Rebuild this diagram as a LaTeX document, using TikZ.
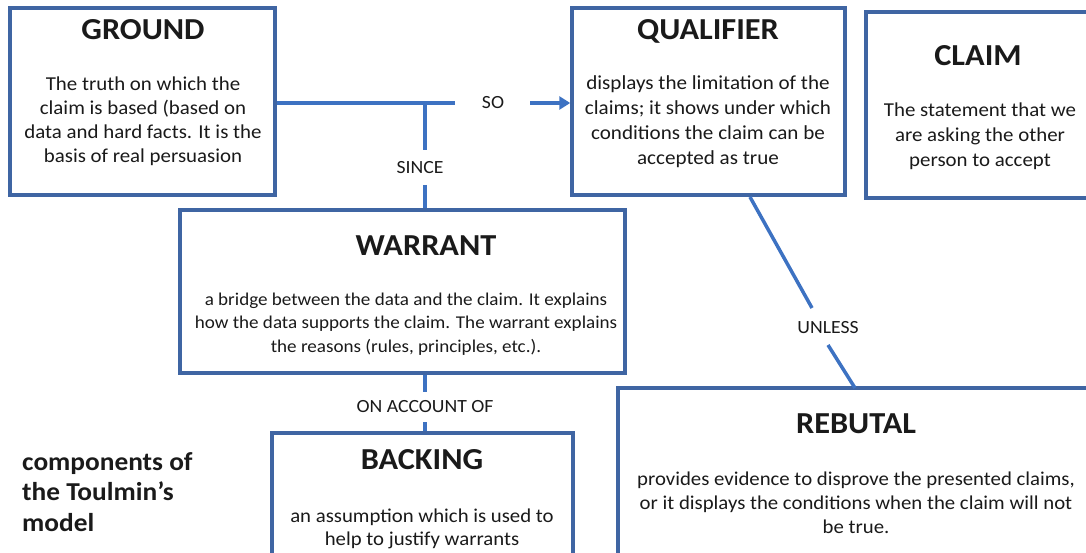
\documentclass[tikz,border=0pt]{standalone}
\usepackage{fontspec}
\setmainfont{Carlito}[FakeStretch=1.06]
\usetikzlibrary{arrows.meta}
\definecolor{boxblue}{HTML}{3F65A3}
\definecolor{lineblue}{HTML}{3D72C2}
\definecolor{txt}{HTML}{1A1A1A}
\tikzset{
  box/.style={draw=boxblue, line width=3.5pt, fill=white, inner sep=0pt},
  ttl/.style={font=\fontsize{30.5}{32}\selectfont\bfseries, text=txt, inner sep=0pt, anchor=base},
  body/.style={font=\fontsize{19.7}{24.5}\selectfont, text=txt, align=center, inner sep=0pt, anchor=base},
  lbl/.style={font=\fontsize{18.6}{20}\selectfont, text=txt, inner sep=2pt},
  conn/.style={draw=lineblue, line width=3.5pt},
}
\begin{document}
\begin{tikzpicture}[x=1pt,y=-1pt]
\useasboundingbox (0,0) rectangle (1086,553);
% boxes
\node[box, minimum width=265, minimum height=187] (ground) at (142.5,101.5) {};
\node[box, minimum width=273, minimum height=187] (qual) at (708.5,101.5) {};
\node[box, minimum width=240, minimum height=186] (claim) at (986,105) {};
\node[box, minimum width=445, minimum height=163] (warrant) at (402.5,291.5) {};
\node[box, minimum width=301, minimum height=140] (backing) at (422.5,503) {};
\node[box, minimum width=480, minimum height=185] (rebutal) at (858,480.5) {};
% texts
\node[ttl] (tground) at (143,40) {GROUND};
\node[body, font=\fontsize{19.7}{24.3}\selectfont] (bground) at (143,163) {The truth on which the\\claim is based (based on\\data and hard facts. It is the\\basis of real persuasion};
\node[ttl] (tqual) at (708,40) {QUALIFIER};
\node[body, font=\fontsize{19.9}{25}\selectfont] (bqual) at (708,165) {displays the limitation of the\\claims; it shows under which\\conditions the claim can be\\accepted as true};
\node[ttl] (tclaim) at (978,66) {CLAIM};
\node[body, font=\fontsize{19.7}{25}\selectfont] (bclaim) at (980,167) {The statement that we\\are asking the other\\person to accept};
\node[ttl] (twarrant) at (426,255) {WARRANT};
\node[body, font=\fontsize{18.0}{23.5}\selectfont] (bwarrant) at (406,352) {a bridge between the data and the claim. It explains\\how the data supports the claim. The warrant explains\\the reasons (rules, principles, etc.).};
\node[ttl] (tbacking) at (422,469) {BACKING};
\node[body, font=\fontsize{19.6}{23}\selectfont] (bbacking) at (422,545) {an assumption which is used to\\help to justify warrants};
\node[ttl] (trebutal) at (856,433) {REBUTAL};
\node[body, font=\fontsize{19.6}{24}\selectfont] (brebutal) at (856,533) {provides evidence to disprove the presented claims,\\or it displays the conditions when the claim will not\\be true.};
\node[font=\fontsize{25.8}{30.5}\selectfont\bfseries, text=txt, align=left, anchor=base west, inner sep=0pt] (comp) at (22,531) {components of\\the Toulmin's\\model};
% labels
\node[lbl] (so) at (493,103) {SO};
\node[lbl] (since) at (420,168) {SINCE};
\node[lbl] (onacc) at (425,407) {ON ACCOUNT OF};
% connectors
\coordinate (j1) at (455,103);
\coordinate (jv) at (425,103);
\coordinate (a0) at (530,103);
\draw[conn] (ground.east |- j1) -- (j1);
\draw[conn] (jv) -- (425,150);
\draw[conn] (425,185) -- (jv |- warrant.north);
\draw[conn, -{Triangle[length=11pt,width=13pt]}] (a0) -- (qual.west |- a0);
\draw[conn] (jv |- warrant.south) -- (425,392);
\draw[conn] (425,422) -- (jv |- backing.north);
\coordinate (q1) at (750,197);
\coordinate (r1) at (855,388);
\draw[conn] (q1) -- (812,308);
\draw[conn] (828,345) -- (r1);
\node[lbl] (unless) at (828,328) {UNLESS};
\end{tikzpicture}
\end{document}
